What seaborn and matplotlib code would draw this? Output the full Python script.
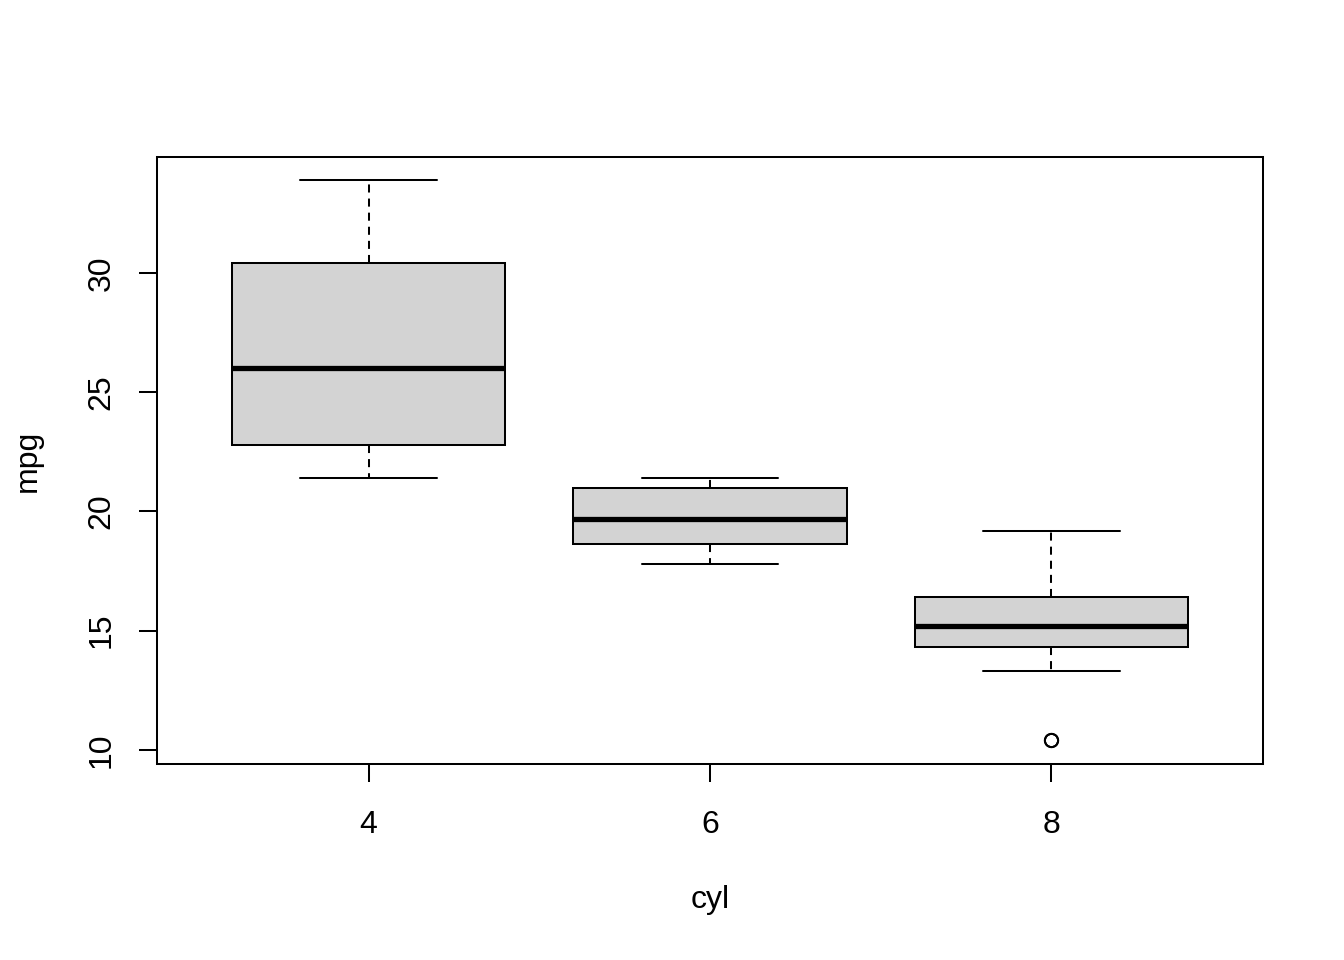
import numpy as np
import pandas as pd
import matplotlib
matplotlib.use("Agg")
import matplotlib.pyplot as plt
import seaborn as sns

# mpg values per cylinder group (mtcars)
mpg_4 = [22.8, 24.4, 22.8, 32.4, 30.4, 33.9, 21.5, 27.3, 26.0, 30.4, 21.4]
mpg_6 = [21.0, 21.0, 21.4, 18.1, 19.2, 17.8, 19.7]
mpg_8 = [18.7, 14.3, 16.4, 17.3, 15.2, 10.4, 10.4, 14.7, 15.5, 15.2, 13.3,
         19.2, 15.8, 15.0]
cyl_levels = ["4", "6", "8"]
y_ticks = [10, 15, 20, 25, 30]

df = pd.DataFrame({
    "cyl": ["4"] * len(mpg_4) + ["6"] * len(mpg_6) + ["8"] * len(mpg_8),
    "mpg": mpg_4 + mpg_6 + mpg_8,
})

# R's boxplot uses Tukey hinges (fivenum) instead of linear percentiles
_orig_stats = matplotlib.cbook.boxplot_stats


def hinges(x, whis):
    x = np.sort(np.asarray(x, dtype=float))
    n = len(x)
    n4 = np.floor((n + 3) / 2) / 2
    hi_d = n + 1 - n4
    q1 = 0.5 * (x[int(np.floor(n4)) - 1] + x[int(np.ceil(n4)) - 1])
    q3 = 0.5 * (x[int(np.floor(hi_d)) - 1] + x[int(np.ceil(hi_d)) - 1])
    iqr = q3 - q1
    lo, hi = q1 - whis * iqr, q3 + whis * iqr
    inside = x[(x >= lo) & (x <= hi)]
    return dict(q1=q1, q3=q3, iqr=iqr, whislo=inside.min(),
                whishi=inside.max(), fliers=x[(x < lo) | (x > hi)])


def tukey_stats(X, whis=1.5, **kws):
    out = _orig_stats(X, whis=whis, **kws)
    if isinstance(X, (list, tuple)) and len(X) and np.ndim(X[0]) >= 1:
        groups = list(X)
    else:
        groups = [X]
    for s, g in zip(out, groups):
        if len(g):
            s.update(hinges(g, whis))
    return out


matplotlib.cbook.boxplot_stats = tukey_stats

sns.set_style("white")
plt.rcParams["font.family"] = ["Liberation Sans", "DejaVu Sans"]
plt.rcParams["text.color"] = "black"
plt.rcParams["axes.labelcolor"] = "black"
plt.rcParams["xtick.color"] = "black"
plt.rcParams["ytick.color"] = "black"

fig = plt.figure(figsize=(13.44, 9.6), dpi=100)
ax = fig.add_axes([157 / 1344, 1 - 764 / 960, 1106 / 1344, 607 / 960])

lw = 1.45
sns.boxplot(data=df, x="cyl", y="mpg", order=cyl_levels, ax=ax,
            width=0.8, whis=1.5, color="#d3d3d3", linecolor="black",
            linewidth=lw, saturation=1,
            medianprops=dict(color="black", linewidth=3.8, solid_capstyle="butt"),
            whiskerprops=dict(color="black", linewidth=lw, linestyle=(0, (4, 3))),
            capprops=dict(color="black", linewidth=lw),
            flierprops=dict(marker="o", markersize=9.5, markerfacecolor="none",
                            markeredgecolor="black", markeredgewidth=lw))

ax.set_xlim(-0.62, 2.62)
ax.set_ylim(9.413, 34.86)
ax.set_yticks(y_ticks)
ax.set_yticklabels([str(t) for t in y_ticks], rotation=90, va="center")

for side in ax.spines.values():
    side.set_visible(True)
    side.set_color("black")
    side.set_linewidth(lw)

ax.tick_params(axis="both", direction="out", length=13, width=lw,
               color="black", labelcolor="black", labelsize=23,
               left=True, bottom=True)
ax.tick_params(axis="x", pad=20)
ax.tick_params(axis="y", pad=16)
ax.set_xlabel("cyl", fontsize=23)
ax.set_ylabel("mpg", fontsize=23)
ax.xaxis.set_label_coords(0.5, (764 - 900) / 607)
ax.xaxis.label.set_va("center")
ax.yaxis.set_label_coords((28 - 157) / 1106, 0.5)
ax.yaxis.label.set_va("center")
ax.grid(False)

fig.savefig("out.png", dpi=100, facecolor="white")
